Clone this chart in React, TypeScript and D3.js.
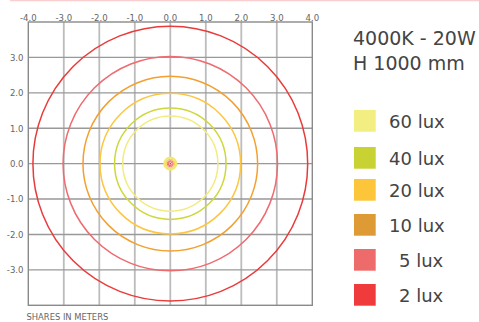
import React from "react";
import * as d3 from "d3";

const xTicks = [-4, -3, -2, -1, 0, 1, 2, 3, 4];
const yTicks = [3, 2, 1, 0, -1, -2, -3];
const luxLabels = ["60 lux", "40 lux", "20 lux", "10 lux", "5 lux", "2 lux"];
const luxColors = ["#f2ee82", "#c8d232", "#fdc53a", "#de9b35", "#ee6b6b", "#ef3b3b"];
const lineColors = ["#f2ec80", "#cdd83a", "#fcc640", "#f3a030", "#ee6b70", "#ea3a3a"];
const radii = [1.34, 1.57, 1.98, 2.46, 3.02, 3.87];
const legendTops = [110, 147, 179, 214, 249, 284];
const legendIndent = [0, 0, 0, 0, 10, 10];
const centerRadii = [0.17, 0.12, 0.085, 0.055, 0.025];
const centerColors = ["#f0e870", "#fcc640", "#ee6b6b", "#ef5050", "#ef3b3b"];

export default function App() {
  const W = 479, H = 322;
  const x = d3.scaleLinear().domain([-4, 4]).range([28.3, 312.3]);
  const y = d3.scaleLinear().domain([4, -4]).range([22, 305.3]);
  const k = x(1) - x(0);
  const font = "'DejaVu Sans', sans-serif";
  const fontC = "'DejaVu Sans Condensed', 'DejaVu Sans', sans-serif";
  return (
    <svg width={W} height={H} style={{ position: "absolute", left: 0, top: 0 }}>
      <rect width={W} height={H} fill="#fff" />
      <line x1={10} x2={W} y1={0.5} y2={0.5} stroke="#fbcfd0" strokeWidth={1.5} />
      {/* grid */}
      {xTicks.slice(1, -1).map((t) => (
        <line key={"v" + t} x1={x(t)} x2={x(t)} y1={y(4)} y2={y(-4)} stroke="#bcbcbc" strokeWidth={1.8} />
      ))}
      {yTicks.map((t) => (
        <line key={"h" + t} x1={x(-4)} x2={x(4)} y1={y(t)} y2={y(t)} stroke="#999" strokeWidth={1.4} />
      ))}
      <rect x={x(-4)} y={y(4)} width={x(4) - x(-4)} height={y(-4) - y(4)} fill="none" stroke="#8a8a8a" strokeWidth={1.4} />
      {/* contours */}
      {radii.map((r, i) => (
        <circle key={"c" + i} cx={x(0)} cy={y(0)} r={r * k} fill="none" stroke={lineColors[i]} strokeWidth={1.5} />
      ))}
      {/* center */}
      <circle cx={x(0)} cy={y(0)} r={centerRadii[0] * k} fill="#f6f09a" stroke={centerColors[0]} strokeWidth={2} />
      <circle cx={x(0)} cy={y(0)} r={centerRadii[1] * k} fill="#fff" stroke={centerColors[1]} strokeWidth={1} />
      <circle cx={x(0)} cy={y(0)} r={centerRadii[2] * k} fill="#fff" stroke={centerColors[2]} strokeWidth={1} />
      <circle cx={x(0)} cy={y(0)} r={centerRadii[3] * k} fill="#fff" stroke={centerColors[3]} strokeWidth={1} />
      <circle cx={x(0)} cy={y(0)} r={centerRadii[4] * k} fill={centerColors[4]} />
      {/* tick labels */}
      {xTicks.map((t) => (
        <text key={"xt" + t} x={x(t)} y={20.5} textAnchor="middle" fontFamily={fontC} fontSize={9.5} fill="#666">
          {t.toFixed(1)}
        </text>
      ))}
      {yTicks.map((t) => (
        <text key={"yt" + t} x={23.5} y={y(t) + 3.4} textAnchor="end" fontFamily={fontC} fontSize={9.5} fill="#666">
          {t.toFixed(1)}
        </text>
      ))}
      <text x={26.5} y={319.5} fontFamily={fontC} fontSize={9.3} fill="#666">SHARES IN METERS</text>
      {/* title */}
      <text x={353} y={44.5} fontFamily={font} fontSize={19} fill="#444">4000K - 20W</text>
      <text x={353} y={69.5} fontFamily={font} fontSize={19} fill="#444">H 1000 mm</text>
      {/* legend */}
      {luxLabels.map((l, i) => (
        <g key={"lg" + i}>
          <rect x={354} y={legendTops[i]} width={21.7} height={21.7} fill={luxColors[i]} />
          <text x={389 + legendIndent[i]} y={legendTops[i] + 18} fontFamily={font} fontSize={18} fill="#444">
            {l}
          </text>
        </g>
      ))}
    </svg>
  );
}
